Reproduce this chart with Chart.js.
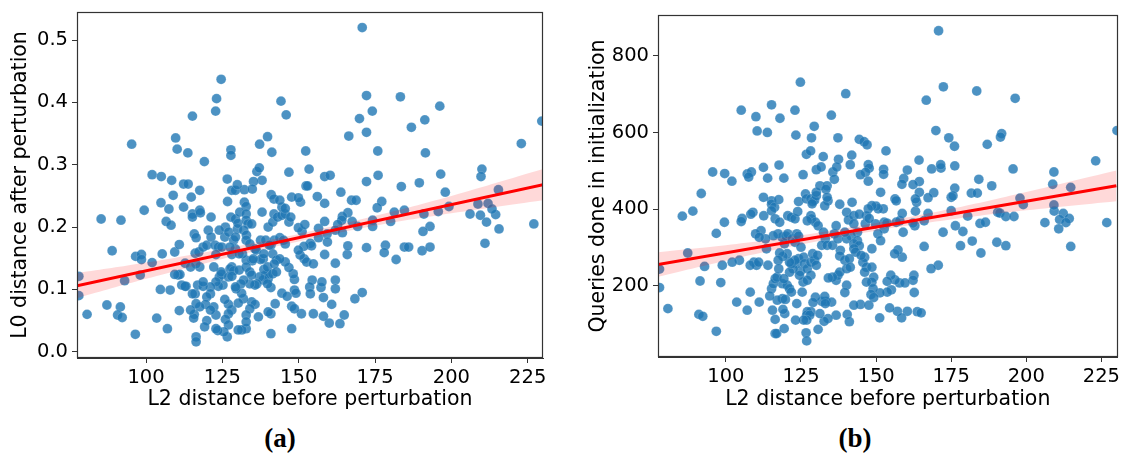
<!DOCTYPE html>
<html><head><meta charset="utf-8">
<script src="https://cdn.jsdelivr.net/npm/chart.js@4.4.1/dist/chart.umd.min.js"></script>
<style>
html,body{margin:0;padding:0;background:#fff;width:1123px;height:457px;overflow:hidden;}
#wa{position:absolute;left:0;top:0;width:560px;height:420px;}
#wb{position:absolute;left:578px;top:0;width:545px;height:420px;}
.cap{position:absolute;top:423px;font-family:"Liberation Serif","DejaVu Serif",serif;font-weight:bold;font-size:27px;transform:translateX(-50%);line-height:30px;color:#000;}
</style></head><body>
<div id="wa"><canvas id="ca" width="560" height="420"></canvas></div>
<div id="wb"><canvas id="cb" width="545" height="420"></canvas></div>
<div class="cap" style="left:280px">(a)</div>
<div class="cap" style="left:855px">(b)</div>
<script>
// ---- data: (L2 distance before perturbation, L0 distance after perturbation)
const pointsA = [
[170.8,0.520],[124.6,0.437],[123.1,0.406],[122.8,0.386],[115.2,0.378],[144.2,0.402],[145.9,0.380],[172.2,0.411],[183.3,0.409],[174.1,0.386],
[169.9,0.374],[196.2,0.394],[191.3,0.372],[186.9,0.360],[172.2,0.352],[166.4,0.346],[229.6,0.370],[222.9,0.334],[95.3,0.333],[109.7,0.343],
[110.2,0.325],[113.7,0.319],[119.1,0.305],[127.8,0.324],[127.8,0.315],[137.2,0.333],[139.8,0.345],[141.2,0.320],[152.3,0.322],[175.9,0.322],
[191.5,0.319],[102.0,0.284],[105.0,0.281],[108.4,0.275],[108.9,0.251],[112.3,0.269],[113.8,0.269],[117.6,0.259],[114.8,0.248],[112.3,0.232],
[104.9,0.239],[107.5,0.229],[99.4,0.227],[85.3,0.213],[91.8,0.211],[106.6,0.209],[108.2,0.203],[126.6,0.277],[126.7,0.241],[128.1,0.259],
[129.3,0.259],[132.2,0.260],[129.9,0.268],[136.3,0.289],[137.1,0.295],[138.0,0.275],[135.2,0.273],[134.8,0.261],[132.2,0.240],[132.8,0.233],
[146.8,0.288],[153.4,0.293],[158.5,0.281],[160.3,0.283],[152.4,0.266],[152.9,0.266],[156.1,0.249],[163.8,0.256],[141.0,0.252],[141.9,0.245],
[147.7,0.248],[150.6,0.240],[149.9,0.247],[158.5,0.238],[167.3,0.243],[168.8,0.243],[176.0,0.283],[172.2,0.273],[177.2,0.241],[175.7,0.231],
[183.6,0.265],[189.5,0.271],[196.5,0.285],[198.0,0.256],[210.0,0.293],[209.7,0.281],[199.2,0.233],[195.7,0.225],[208.7,0.237],[212.0,0.238],
[215.4,0.260],[206.1,0.221],[209.5,0.219],[211.5,0.208],[214.5,0.220],[213.3,0.229],[215.6,0.197],[211.0,0.174],[227.0,0.205],[181.3,0.224],
[184.6,0.227],[180.1,0.209],[174.2,0.211],[174.2,0.201],[169.3,0.201],[167.5,0.209],[166.1,0.223],[164.3,0.217],[164.1,0.211],[162.8,0.204],
[162.0,0.195],[164.3,0.191],[191.0,0.221],[193.0,0.201],[190.7,0.193],[172.2,0.167],[178.4,0.171],[178.0,0.159],[181.9,0.148],[184.6,0.168],
[186.0,0.168],[190.4,0.162],[193.0,0.168],[170.8,0.095],[168.4,0.085],[165.9,0.156],[162.0,0.142],[162.0,0.115],[162.0,0.101],[160.8,0.076],
[164.9,0.059],[163.5,0.045],[160.0,0.046],[158.1,0.057],[158.1,0.087],[157.3,0.103],[157.6,0.112],[158.5,0.156],[154.4,0.115],[153.6,0.104],
[154.8,0.061],[153.8,0.093],[151.8,0.149],[152.6,0.144],[154.8,0.141],[153.8,0.174],[154.2,0.170],[151.7,0.169],[150.5,0.155],[149.9,0.163],
[151.1,0.193],[149.9,0.199],[152.0,0.204],[156.5,0.198],[156.5,0.183],[158.5,0.209],[159.3,0.189],[159.4,0.176],[150.9,0.061],[148.6,0.099],
[149.1,0.094],[148.6,0.116],[147.7,0.073],[148.6,0.069],[147.7,0.037],[148.2,0.125],[146.8,0.135],[145.6,0.144],[144.5,0.094],[146.2,0.089],
[142.3,0.077],[140.9,0.061],[140.9,0.029],[140.0,0.064],[140.0,0.117],[140.9,0.103],[140.0,0.124],[139.2,0.123],[138.4,0.115],[137.2,0.120],
[136.3,0.109],[135.7,0.107],[134.0,0.109],[134.6,0.080],[135.7,0.076],[134.0,0.069],[132.8,0.059],[136.8,0.056],[132.8,0.037],[131.4,0.035],
[130.2,0.035],[132.8,0.048],[131.9,0.085],[131.3,0.094],[129.5,0.101],[130.2,0.078],[128.1,0.067],[127.0,0.076],[127.0,0.061],[126.0,0.052],
[127.0,0.043],[126.6,0.024],[125.5,0.032],[123.5,0.034],[122.9,0.037],[125.8,0.084],[125.2,0.107],[123.7,0.105],[124.8,0.124],[124.0,0.120],
[124.6,0.128],[122.2,0.136],[122.9,0.112],[121.1,0.104],[121.1,0.093],[119.9,0.088],[122.2,0.072],[122.9,0.059],[119.5,0.076],[119.9,0.050],
[119.2,0.040],[121.1,0.067],[117.6,0.072],[116.4,0.077],[115.8,0.060],[115.6,0.054],[116.4,0.024],[116.4,0.016],[116.1,0.093],[115.2,0.093],
[114.6,0.067],[113.1,0.105],[111.7,0.107],[110.5,0.123],[111.1,0.124],[112.8,0.142],[116.9,0.107],[118.7,0.105],[118.7,0.112],[117.6,0.136],
[116.4,0.141],[116.1,0.158],[117.3,0.160],[118.7,0.168],[119.9,0.171],[120.4,0.195],[121.3,0.184],[121.3,0.216],[115.8,0.189],[116.4,0.183],
[115.2,0.221],[115.2,0.216],[117.6,0.227],[117.8,0.223],[122.6,0.171],[123.7,0.168],[122.9,0.156],[124.8,0.168],[125.8,0.184],[126.0,0.200],
[124.0,0.195],[127.1,0.192],[127.8,0.216],[129.3,0.213],[129.9,0.197],[130.1,0.206],[130.7,0.224],[132.8,0.221],[132.8,0.211],[133.4,0.205],
[134.6,0.205],[132.0,0.195],[132.9,0.187],[128.7,0.179],[129.3,0.165],[128.1,0.156],[127.5,0.168],[129.3,0.184],[132.8,0.179],[134.0,0.173],
[135.7,0.165],[137.5,0.179],[139.2,0.179],[138.0,0.224],[140.0,0.200],[141.5,0.208],[141.9,0.221],[143.1,0.216],[144.5,0.219],[145.6,0.221],
[146.8,0.208],[147.4,0.216],[142.0,0.179],[140.9,0.171],[143.8,0.183],[145.0,0.179],[145.6,0.173],[141.5,0.157],[142.7,0.147],[143.8,0.149],
[138.4,0.149],[137.5,0.148],[136.1,0.163],[134.8,0.146],[132.8,0.147],[131.6,0.157],[130.5,0.157],[128.1,0.136],[127.5,0.133],[128.7,0.130],
[127.0,0.120],[128.1,0.121],[130.5,0.131],[132.8,0.136],[134.0,0.128],[134.6,0.123],[132.0,0.115],[131.1,0.109],[129.3,0.104],[135.1,0.149],
[138.6,0.132],[139.8,0.136],[141.5,0.125],[142.0,0.141],[142.7,0.128],[138.6,0.157],[140.4,0.171],[139.8,0.109],[144.5,0.232],[145.6,0.230],
[143.8,0.243],[78.0,0.121],[78.0,0.090],[80.7,0.060],[87.2,0.075],[91.6,0.072],[90.7,0.059],[92.2,0.055],[93.0,0.114],[88.9,0.162],
[96.5,0.028],[96.6,0.153],[98.5,0.156],[98.5,0.148],[98.1,0.123],[102.0,0.143],[103.5,0.054],[104.7,0.100],[105.3,0.157],[107.0,0.037],
[107.9,0.099],[109.4,0.160],[110.9,0.172],[109.4,0.124],[110.9,0.066],[114.6,0.136],[112.8,0.105],[166.1,0.170]
];
// ---- data: (L2 distance before perturbation, Queries done in initialization)
const pointsB = [
[170.8,865],[124.8,731],[172.4,719],[183.5,708],[139.9,701],[196.3,689],[166.7,684],[105.1,658],[115.2,672],[123.0,658],
[110.0,641],[118.0,637],[135.1,645],[129.4,616],[110.4,604],[113.8,600],[123.3,593],[128.5,586],[137.3,586],[169.9,605],
[174.2,586],[176.1,564],[187.0,569],[191.8,597],[191.4,588],[230.2,605],[144.4,582],[146.0,576],[147.0,568],[126.8,543],
[128.2,552],[132.4,537],[141.9,541],[153.3,552],[137.5,530],[164.3,528],[223.1,526],[95.6,497],[99.6,493],[102.0,473],
[107.1,492],[108.5,497],[107.6,484],[112.5,509],[117.7,515],[113.9,481],[119.3,481],[125.7,490],[130.1,503],[131.7,510],
[135.6,497],[136.9,510],[136.1,478],[141.4,516],[147.4,516],[147.7,507],[146.5,496],[147.4,473],[144.8,490],[152.5,504],
[152.5,491],[160.4,502],[159.2,480],[158.6,465],[168.5,505],[171.6,507],[171.5,516],[176.2,513],[184.2,478],[188.5,461],
[195.6,505],[209.2,497],[208.8,465],[214.8,457],[164.4,472],[162.3,464],[164.4,444],[169.2,443],[167.3,430],[176.2,455],
[175.0,431],[175.6,435],[181.7,442],[183.7,442],[197.9,429],[199.0,412],[209.3,395],[209.2,411],[212.3,389],[211.1,373],
[214.3,376],[213.2,365],[210.8,349],[206.2,365],[226.8,365],[214.8,303],[190.5,392],[191.2,390],[193.2,381],[195.9,381],
[190.2,314],[193.2,305],[184.6,363],[186.4,366],[184.9,286],[182.0,317],[178.1,305],[178.9,342],[180.5,382],[176.4,357],
[175.0,396],[172.3,340],[170.7,254],[168.3,245],[166.0,303],[167.3,389],[166.0,370],[163.1,395],[163.5,418],[163.1,427],
[162.9,357],[162.3,364],[162.6,228],[162.7,183],[162.3,215],[163.7,133],[165.0,130],[157.1,134],[160.4,134],[158.5,117],
[157.8,208],[156.3,216],[159.6,208],[158.7,275],[157.3,294],[156.2,284],[154.9,228],[153.7,212],[155.1,190],[153.7,184],
[151.3,182],[151.2,117],[154.5,143],[156.7,366],[159.0,340],[157.9,370],[158.7,389],[156.3,427],[156.7,422],[151.5,444],
[152.7,366],[152.7,349],[153.6,364],[152.4,401],[150.7,401],[150.0,408],[148.6,409],[147.4,401],[146.8,383],[146.4,362],
[149.8,362],[147.7,376],[150.6,336],[151.5,318],[148.6,297],[146.2,275],[145.6,262],[146.8,249],[146.2,236],[148.6,249],
[149.2,223],[148.6,210],[146.8,210],[149.0,193],[148.3,178],[149.2,170],[144.8,152],[142.6,150],[147.6,150],[140.4,126],
[141.1,107],[140.2,202],[139.6,183],[136.7,215],[137.3,228],[137.9,236],[135.5,223],[134.1,221],[136.7,124],[134.0,115],
[132.7,108],[133.3,160],[135.2,158],[131.9,160],[132.9,173],[130.7,87],[131.3,128],[133.1,154],[129.8,171],[129.0,157],
[128.3,133],[127.1,133],[126.9,124],[127.9,124],[126.7,78],[126.9,57],[126.9,111],[125.9,111],[123.2,111],[123.6,154],
[125.4,184],[125.7,210],[124.8,238],[124.5,228],[123.6,258],[124.2,271],[125.9,275],[126.2,258],[127.1,245],[128.3,262],
[129.5,267],[128.9,284],[130.5,280],[130.1,254],[128.3,228],[127.1,215],[122.4,245],[121.2,236],[121.8,258],[123.0,267],
[121.2,262],[120.4,284],[119.0,277],[117.9,286],[117.4,267],[119.5,310],[118.7,327],[117.4,336],[115.8,331],[120.0,330],
[120.6,336],[122.1,323],[123.0,314],[123.6,336],[125.0,301],[124.2,330],[120.6,383],[121.8,379],[123.0,375],[123.9,394],
[124.2,420],[126.5,440],[126.8,427],[128.3,427],[128.9,420],[129.5,423],[130.1,435],[128.7,414],[130.1,444],[131.3,461],
[133.7,461],[133.3,452],[134.0,422],[132.9,409],[133.7,431],[128.3,383],[128.5,375],[129.8,366],[127.1,370],[130.7,357],
[132.5,340],[133.1,323],[131.9,306],[133.7,306],[136.1,336],[135.5,306],[137.3,323],[138.1,293],[137.9,278],[139.6,267],
[136.7,357],[137.9,413],[140.2,392],[142.0,418],[140.8,372],[142.6,383],[144.4,387],[142.6,362],[143.8,340],[141.7,331],
[140.2,323],[139.6,340],[143.8,318],[142.6,310],[144.4,305],[142.6,297],[143.2,288],[145.0,280],[141.1,271],[140.2,245],
[141.4,249],[118.8,206],[120.4,202],[121.2,193],[121.8,184],[118.8,167],[117.1,163],[115.2,193],[115.8,206],[116.4,219],
[117.0,223],[117.6,245],[119.3,219],[119.6,128],[119.0,139],[119.8,165],[116.4,113],[115.5,137],[116.4,76],[116.9,76],
[119.4,89],[114.6,174],[112.6,383],[115.2,422],[115.2,413],[116.2,405],[115.2,396],[117.6,425],[116.4,375],[117.9,366],
[111.7,344],[109.9,336],[109.0,392],[108.3,387],[112.5,431],[105.4,376],[105.1,368],[99.5,366],[96.8,337],[109.3,262],
[110.2,254],[108.1,254],[113.5,297],[113.2,323],[111.1,327],[110.9,262],[104.5,267],[102.1,262],[98.8,254],[92.9,251],
[98.3,209],[91.4,213],[85.5,382],[89.0,395],[91.8,441],[87.3,286],[77.9,244],[77.9,196],[80.7,141],[91.0,126],
[92.3,121],[96.8,82],[103.6,158],[107.1,137],[108.1,184],[111.1,158],[114.0,254]
];
// regression fit line and its 95% confidence band
const lineX = [77.4, 230];
const lineA = [0.106, 0.268];
const lineB = [256, 461];
const bandX = [77.4, 100, 125, 150, 175, 200, 230];
const bandLoA = [0.086, 0.117, 0.149, 0.177, 0.202, 0.222, 0.243];
const bandHiA = [0.126, 0.143, 0.165, 0.189, 0.218, 0.250, 0.293];
const bandLoB = [224, 266, 308, 344, 373, 397, 421];
const bandHiB = [288, 306, 332, 364, 401, 445, 501];
// axis ticks
const xTicks = [100, 125, 150, 175, 200, 225];
const yTicksA = [0.0, 0.1, 0.2, 0.3, 0.4, 0.5];
const yTicksB = [200, 400, 600, 800];
const xTitle = 'L2 distance before perturbation';
const yTitleA = 'L0 distance after perturbation';
const yTitleB = 'Queries done in initialization';

const FONT = '"DejaVu Sans", sans-serif';
const frame = {
  id: 'frame',
  afterDatasetsDraw(chart) {
    const a = chart.chartArea, ctx = chart.ctx;
    ctx.save();
    ctx.strokeStyle = '#333';
    ctx.lineWidth = 1.2;
    ctx.strokeRect(Math.round(a.left) + 0.5, Math.round(a.top) + 0.5, Math.round(a.right - a.left) - 1, Math.round(a.bottom - a.top) - 1);
    ctx.restore();
  }
};

function make(id, pts, lineY, lo, hi, xr, yr, yTicks, fmt, yTitle, pad, yW, xH) {
  const xy = (xs, ys) => xs.map((x, i) => ({ x: x, y: ys[i] }));
  new Chart(document.getElementById(id), {
    type: 'scatter',
    data: {
      datasets: [
        { type: 'line', data: xy(lineX, lineY), borderColor: '#ff0000', borderWidth: 3, pointRadius: 0, fill: false, order: 0, clip: 0 },
        { type: 'line', data: xy(bandX, hi), borderWidth: 0, borderColor: 'rgba(0,0,0,0)', pointRadius: 0, tension: 0.4, fill: 2, backgroundColor: 'rgba(255,0,0,0.15)', order: 1, clip: 0 },
        { type: 'line', data: xy(bandX, lo), borderWidth: 0, borderColor: 'rgba(0,0,0,0)', pointRadius: 0, tension: 0.4, fill: false, order: 2, clip: 0 },
        { type: 'scatter', data: pts.map(p => ({ x: p[0], y: p[1] })), backgroundColor: 'rgba(31,119,180,0.8)', borderColor: 'rgba(255,255,255,0.3)', borderWidth: 0.5, pointRadius: 4.9, order: 3, clip: 0 }
      ]
    },
    options: {
      responsive: false, animation: false, devicePixelRatio: 1,
      layout: { padding: pad },
      plugins: { legend: { display: false }, tooltip: { enabled: false } },
      scales: {
        x: {
          type: 'linear', min: xr[0], max: xr[1],
          afterBuildTicks: s => { s.ticks = xTicks.map(v => ({ value: v })); },
          afterFit: s => { s.height = xH; s.paddingLeft = 0; s.paddingRight = 0; },
          ticks: { color: '#000', font: { family: FONT, size: 19.5 }, padding: 3, maxRotation: 0, autoSkip: false, callback: v => String(v) },
          grid: { drawOnChartArea: false, drawTicks: true, tickLength: 5, color: '#333', lineWidth: 1 },
          border: { display: true, color: '#333', width: 1 },
          title: { display: true, text: xTitle, color: '#000', font: { family: FONT, size: 20.5 }, padding: { top: 0, bottom: 8 } }
        },
        y: {
          type: 'linear', min: yr[0], max: yr[1],
          afterBuildTicks: s => { s.ticks = yTicks.map(v => ({ value: v })); },
          afterFit: s => { s.width = yW; s.paddingTop = 0; s.paddingBottom = 0; },
          ticks: { color: '#000', font: { family: FONT, size: 19.5 }, padding: 4, autoSkip: false, callback: fmt },
          grid: { drawOnChartArea: false, drawTicks: true, tickLength: 5, color: '#333', lineWidth: 1 },
          border: { display: true, color: '#333', width: 1 },
          title: { display: true, text: yTitle, color: '#000', font: { family: FONT, size: 20.5 }, padding: { top: 8, bottom: 0 } }
        }
      }
    },
    plugins: [frame]
  });
}

make('ca', pointsA, lineA, bandLoA, bandHiA, [77.4, 230], [-0.01, 0.545], yTicksA, v => Number(v).toFixed(1), yTitleA,
     { left: 0, right: 17, top: 12, bottom: 0 }, 77, 62);
make('cb', pointsB, lineB, bandLoB, bandHiB, [77.4, 230.4], [15, 906], yTicksB, v => String(v), yTitleB,
     { left: 0, right: 4, top: 15, bottom: 0 }, 80, 63);
</script>
</body></html>
